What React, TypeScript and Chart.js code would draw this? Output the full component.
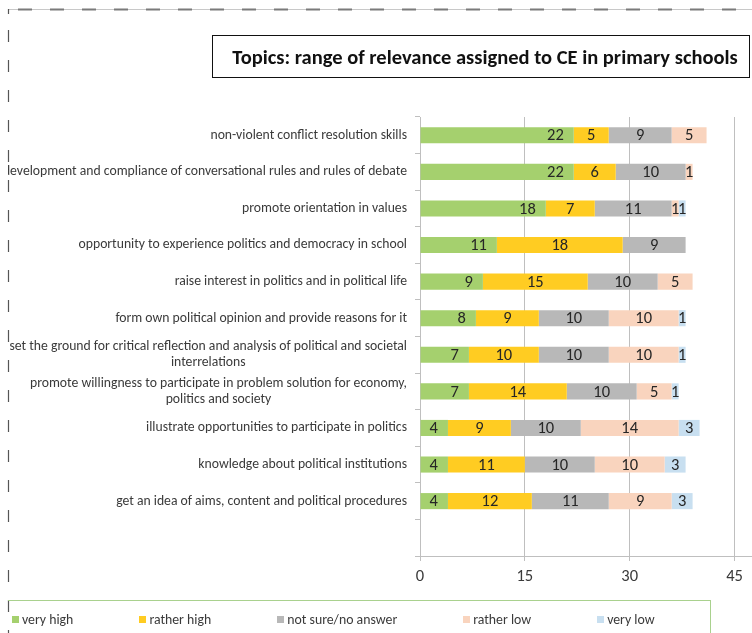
import React, { useEffect, useRef } from "react";
import { Chart, registerables } from "chart.js";
Chart.register(...registerables);

const categories: (string | string[])[] = [
  "non-violent conflict resolution skills",
  "development and compliance of conversational rules and rules of debate",
  "promote orientation in values",
  "opportunity to experience politics and democracy in school",
  "raise interest in politics and in political life",
  "form own political opinion and provide reasons for it",
  ["set the ground for critical reflection and analysis of political and societal", "interrelations"],
  ["promote willingness to participate in problem solution for economy,", "politics and society"],
  "illustrate opportunities to participate in politics",
  "knowledge about political institutions",
  "get an idea of aims, content and political procedures",
  "",
];

const seriesNames = ["very high", "rather high", "not sure/no answer", "rather low", "very low"];
const seriesColors = ["#A5D06E", "#FFCC22", "#B8B8B8", "#F9D4BE", "#C8DFF0"];

const veryHigh = [22, 22, 18, 11, 9, 8, 7, 7, 4, 4, 4];
const ratherHigh = [5, 6, 7, 18, 15, 9, 10, 14, 9, 11, 12];
const notSure = [9, 10, 11, 9, 10, 10, 10, 10, 10, 10, 11];
const ratherLow = [5, 1, 1, null, 5, 10, 10, 5, 14, 10, 9];
const veryLow = [null, null, 1, null, null, 1, 1, 1, 3, 3, 3];

const xTicks = [0, 15, 30, 45];
const xMax = 47.5;

const chartTitle = "Topics: range of relevance assigned to CE in primary schools";

const FONT = "Carlito, Lato, sans-serif";
const LABEL_SIZE = 13.7;
const TEXT_COLOR = "#3A3A3A";

const catLabelPlugin = {
  id: "catLabels",
  afterDraw(chart: any) {
    const ctx = chart.ctx;
    const y = chart.scales.y;
    ctx.save();
    ctx.font = `${LABEL_SIZE}px ${FONT}`;
    ctx.fillStyle = TEXT_COLOR;
    ctx.textBaseline = "middle";
    ctx.textAlign = "center";
    const right = chart.chartArea.left - 13;
    const lh = 16.5;
    categories.forEach((c, i) => {
      const lines = Array.isArray(c) ? c : [c];
      const w = Math.max(...lines.map((l) => ctx.measureText(l).width));
      const cx = right - w / 2;
      const yc = y.getPixelForValue(i);
      lines.forEach((l, j) => ctx.fillText(l, cx, yc + (j - (lines.length - 1) / 2) * lh));
    });
    ctx.restore();
  },
};

const valueLabelPlugin = {
  id: "valueLabels",
  afterDatasetsDraw(chart: any) {
    const ctx = chart.ctx;
    ctx.save();
    ctx.font = `16.5px ${FONT}`;
    ctx.fillStyle = "#262626";
    ctx.textBaseline = "middle";
    ctx.textAlign = "center";
    chart.data.datasets.forEach((ds: any, di: number) => {
      const meta = chart.getDatasetMeta(di);
      meta.data.forEach((bar: any, i: number) => {
        const v = ds.data[i];
        if (v == null) return;
        const { x, base, y } = bar.getProps(["x", "base", "y"], true);
        const txt = String(v);
        const cx = di === 0 ? x - 10 - ctx.measureText(txt).width / 2 : (x + base) / 2;
        ctx.fillText(txt, cx, y + 1);
      });
    });
    ctx.restore();
  },
};

export default function App() {
  const ref = useRef<HTMLCanvasElement>(null);
  useEffect(() => {
    const chart = new Chart(ref.current!, {
      type: "bar",
      data: {
        labels: categories.map((c) => (Array.isArray(c) ? c.join(" ") : c)),
        datasets: [veryHigh, ratherHigh, notSure, ratherLow, veryLow].map((d, i) => ({
          label: seriesNames[i],
          data: d,
          backgroundColor: seriesColors[i],
          borderWidth: 0,
          categoryPercentage: 1,
          barPercentage: 0.44,
        })),
      },
      options: {
        indexAxis: "y",
        animation: false,
        responsive: false,
        maintainAspectRatio: false,
        layout: { padding: { top: 117, left: 0, right: 0, bottom: 0 } },
        plugins: { legend: { display: false }, title: { display: false }, tooltip: { enabled: false } },
        scales: {
          x: {
            stacked: true,
            min: 0,
            max: xMax,
            afterBuildTicks: (s: any) => {
              s.ticks = xTicks.map((v) => ({ value: v }));
            },
            afterFit: (s: any) => {
              s.height = 44;
            },
            grid: { color: "#BFBFBF", tickLength: 5, drawTicks: true },
            border: { color: "#BFBFBF" },
            ticks: { font: { family: FONT, size: 16.5 }, color: TEXT_COLOR, padding: 6 },
          },
          y: {
            stacked: true,
            afterFit: (s: any) => {
              s.width = 412;
            },
            grid: { drawOnChartArea: false, drawTicks: true, tickLength: 5, color: "#BFBFBF", offset: true },
            border: { color: "#BFBFBF" },
            ticks: { callback: () => "" },
          },
        },
      },
      plugins: [catLabelPlugin, valueLabelPlugin],
    } as any);
    return () => chart.destroy();
  }, []);

  return (
    <div style={{ position: "absolute", left: 0, top: 0, width: 752, height: 633, overflow: "hidden", background: "#fff" }}>
      <canvas ref={ref} width={744} height={600} style={{ position: "absolute", left: 8, top: 0 }} />
      <svg width={752} height={633} style={{ position: "absolute", left: 0, top: 0 }}>
        <line x1={8} y1={9.5} x2={752} y2={9.5} stroke="#C8C8C8" strokeWidth={1} />
        <line x1={18} y1={9.5} x2={752} y2={9.5} stroke="#7A7A7A" strokeWidth={2} strokeDasharray="14 18" />
        <line x1={8.5} y1={9} x2={8.5} y2={633} stroke="#555" strokeWidth={1.2} strokeDasharray="5 16 12 18 12 18 12 18 12 18 12 18 12 18 12 18 12 18 12 18 12 18 12 18 12 18 12 18 12 18 12 18 12 18 12 18 12 18 12 18 12 18" />
      </svg>
      <div
        style={{
          position: "absolute",
          left: 212,
          top: 35,
          width: 538,
          height: 43,
          border: "1.5px solid #111",
          boxSizing: "border-box",
          display: "flex",
          alignItems: "center",
          justifyContent: "center",
          paddingLeft: 8,
          fontFamily: FONT,
          fontWeight: 700,
          fontSize: 20.5,
          color: "#111",
          whiteSpace: "nowrap",
        }}
      >
        {chartTitle}
      </div>
      <div
        style={{
          position: "absolute",
          left: 8,
          top: 600,
          width: 703,
          height: 60,
          borderTop: "1px solid #A9D18E",
          borderRight: "1px solid #A9D18E",
          boxSizing: "border-box",
          display: "flex",
          alignItems: "flex-start",
          paddingTop: 10,
          paddingLeft: 4,
          fontFamily: FONT,
          fontSize: 13.8,
          color: TEXT_COLOR,
        }}
      >
        {seriesNames.map((n, i) => (
          <div key={n} style={{ display: "flex", alignItems: "center", marginRight: 66, whiteSpace: "nowrap" }}>
            <span style={{ width: 7, height: 7, background: seriesColors[i], display: "inline-block", marginRight: 3 }} />
            <span>{n}</span>
          </div>
        ))}
      </div>
    </div>
  );
}
